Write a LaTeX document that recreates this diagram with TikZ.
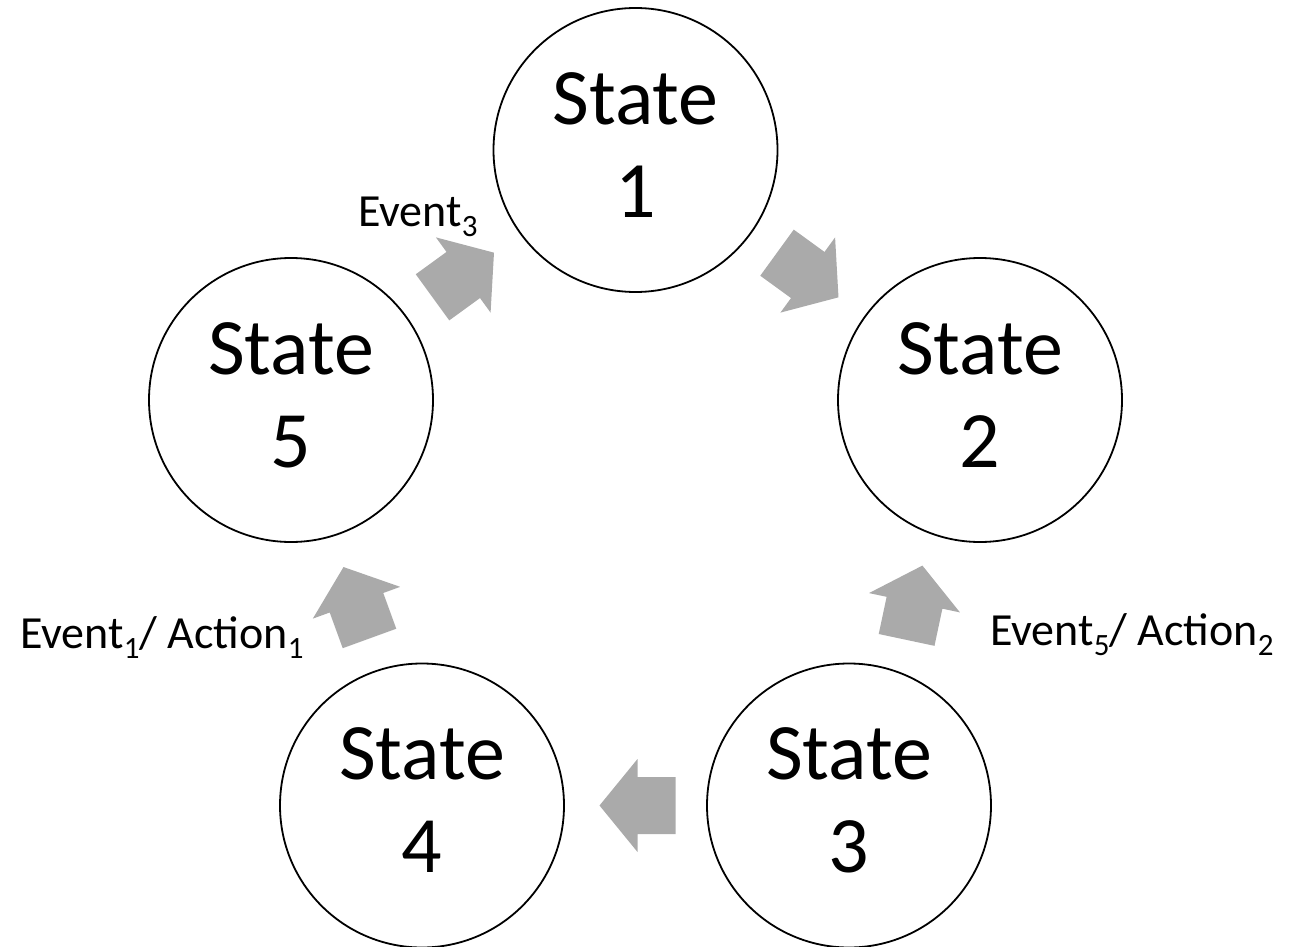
\documentclass[tikz,border=0pt]{standalone}
\usepackage{fontspec}
\setmainfont{Carlito}
\usetikzlibrary{calc}
\definecolor{arrowgray}{RGB}{170,170,170}
\newcommand{\lowsub}[1]{\raisebox{-0.22em}{\fontsize{31}{31}\selectfont #1}}
\begin{document}
\begin{tikzpicture}[x=1pt,y=-1pt,
  statecircle/.style={circle,draw=black,line width=1.8pt,fill=white,minimum size=284pt,inner sep=0pt,align=center,text depth=10pt,font=\fontsize{80}{93}\selectfont},
  evlabel/.style={anchor=base west,inner sep=0pt,font=\fontsize{46}{55}\selectfont},
  blockarrow/.pic={\fill[arrowgray] (-38,-28.5) -- (0,-28.5) -- (0,-46.5) -- (38,0) -- (0,46.5) -- (0,28.5) -- (-38,28.5) -- cycle;}
]
\useasboundingbox (0,0) rectangle (1312,947);
\node[statecircle] (s1) at (635.5,150) {State\\1};
\node[statecircle] (s2) at (980,400) {State\\2};
\node[statecircle] (s3) at (849,805.5) {State\\3};
\node[statecircle] (s4) at (422,805.5) {State\\4};
\node[statecircle] (s5) at (291,400) {State\\5};
\pic[rotate=-36] at ($(s1)!0.5!(s2)$) {blockarrow};
\pic[rotate=78] at ($(s3)!0.5!(s2)$) {blockarrow};
\pic[rotate=180] at ($(s3)!0.5!(s4)+(2,0)$) {blockarrow};
\pic[rotate=110] at ($(s4)!0.5!(s5)$) {blockarrow};
\pic[rotate=36] at ($(s5)!0.5!(s1)$) {blockarrow};
\node[evlabel] (l3) at (358,226) {Event\lowsub{3}};
\node[evlabel] (l1) at (20,648) {Event\lowsub{1}/ Action\lowsub{1}};
\node[evlabel] (l5) at (990,645) {Event\lowsub{5}/ Action\lowsub{2}};
\end{tikzpicture}
\end{document}
